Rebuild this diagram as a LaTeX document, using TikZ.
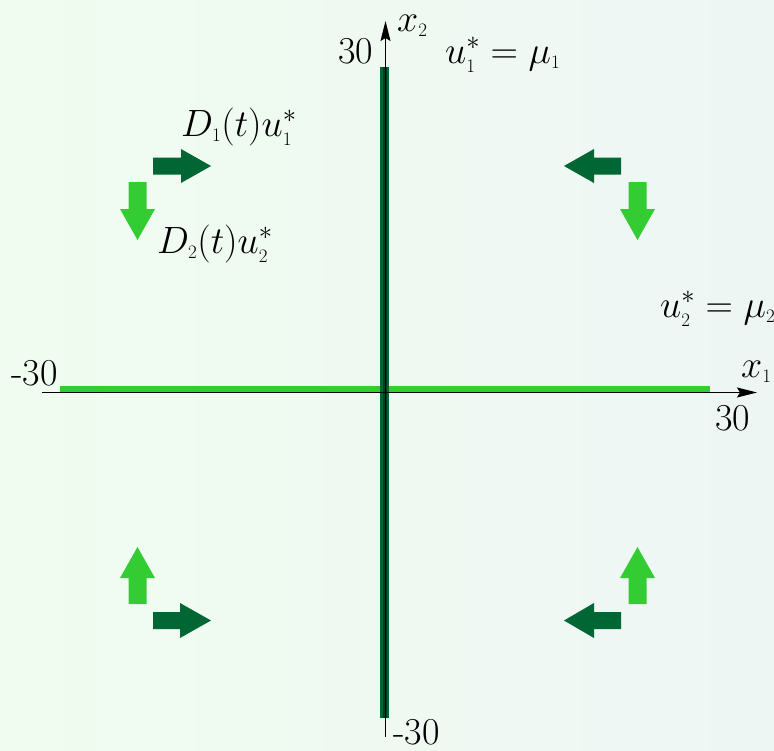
\RequirePackage{fix-cm}
\documentclass[tikz,border=0pt]{standalone}
\usetikzlibrary{arrows.meta}
\DeclareMathSizes{38}{38}{26.6}{19}
\definecolor{dkgreen}{RGB}{0,102,51}
\definecolor{coregreen}{RGB}{0,62,30}
\definecolor{ltgreen}{RGB}{51,204,51}
\definecolor{bgleft}{RGB}{240,252,240}
\definecolor{bgright}{RGB}{238,246,244}
\newcommand{\sbs}[1]{_{\scriptscriptstyle #1}}
\tikzset{
  lbl/.style={inner sep=0pt, anchor=base west, font=\fontsize{38}{44}\selectfont},
  axis/.style={black, line width=1.3pt},
  axtip/.style={-{Stealth[length=20pt,width=10pt,inset=3pt]}},
  darrow/.style={fill=dkgreen, draw=none},
  larrow/.style={fill=ltgreen, draw=none}
}
\begin{document}
\begin{tikzpicture}[x=1pt,y=-1pt]
\useasboundingbox (0,0) rectangle (774,750);
\shade[left color=bgleft, right color=bgright] (0,0) rectangle (774,750);
\begin{scope}
\clip (0,0) rectangle (774,750);
% thick data lines
\draw[ltgreen, line width=6pt] (60,389) -- (710,389);
\draw[dkgreen, line width=9pt] (384.5,67) -- (384.5,718);
\draw[coregreen, line width=4pt] (384.5,67) -- (384.5,718);
% axes
\coordinate (xl) at (42,392.5);
\coordinate (xr) at (757,392.5);
\coordinate (yb) at (385.5,737);
\coordinate (yt) at (385.5,21);
\draw[axis, axtip] (xl) -- (xr);
\draw[axis, axtip] (yb) -- (yt);
% labels
\node[lbl] (t30) at (338,63) {30};
\node[lbl] (x2) at (397,31) {$x\sbs{2}$};
\node[lbl] (u1) at (445,63) {$u\sbs{1}^{*}=\mu\sbs{1}$};
\node[lbl] (d1) at (181,136) {$D\sbs{1}(t)u\sbs{1}^{*}$};
\node[lbl] (d2) at (157,253) {$D\sbs{2}(t)u\sbs{2}^{*}$};
\node[lbl] (u2) at (660,317) {$u\sbs{2}^{*}=\mu\sbs{2}$};
\node[lbl] (x1) at (741,377) {$x\sbs{1}$};
\node[lbl] (r30) at (715,430) {30};
\node[lbl] (l30) at (11,385) {-30};
\node[lbl] (b30) at (393,744) {-30};
% block arrows top-left
\fill[darrow] (153,157.5) -- (181,157.5) -- (181,149) -- (211,166) -- (181,183) -- (181,174.5) -- (153,174.5) -- cycle;
\fill[larrow] (128.5,182) -- (146.5,182) -- (146.5,209) -- (155,209) -- (137.5,240) -- (120,209) -- (128.5,209) -- cycle;
% top-right
\fill[darrow] (621,157.5) -- (594,157.5) -- (594,149) -- (564,166) -- (594,183) -- (594,174.5) -- (621,174.5) -- cycle;
\fill[larrow] (628.5,182) -- (646.5,182) -- (646.5,209) -- (655,209) -- (637.5,240) -- (620,209) -- (628.5,209) -- cycle;
% bottom-left
\fill[larrow] (128.5,604) -- (146.5,604) -- (146.5,578) -- (155,578) -- (137.5,547) -- (120,578) -- (128.5,578) -- cycle;
\fill[darrow] (153,612) -- (180,612) -- (180,603) -- (211,620.5) -- (180,638) -- (180,629) -- (153,629) -- cycle;
% bottom-right
\fill[larrow] (628.5,604) -- (646.5,604) -- (646.5,578) -- (655,578) -- (637.5,547) -- (620,578) -- (628.5,578) -- cycle;
\fill[darrow] (621,612) -- (594,612) -- (594,603) -- (564,620.5) -- (594,638) -- (594,629) -- (621,629) -- cycle;
\end{scope}
\end{tikzpicture}
\end{document}
